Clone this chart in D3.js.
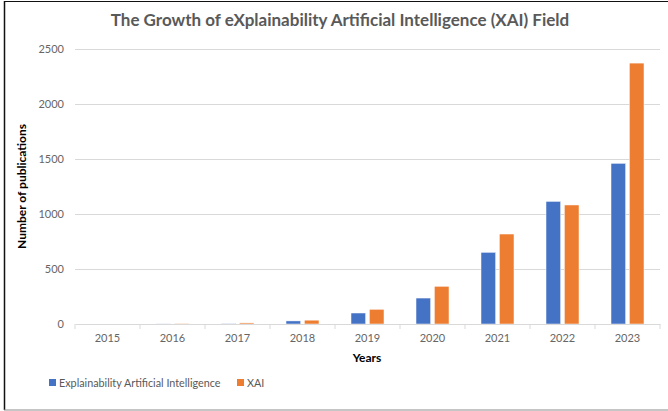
<!DOCTYPE html>
<html>
<head>
<meta charset="utf-8">
<script src="https://cdn.jsdelivr.net/npm/d3@7"></script>
<style>
  body { margin: 0; background: #fff; }
  svg { display: block; font-family: Lato, "Open Sans", sans-serif; }
</style>
</head>
<body>
<script>
// chart data
var years = ["2015", "2016", "2017", "2018", "2019", "2020", "2021", "2022", "2023"];
var seriesNames = ["Explainability Artificial Intelligence", "XAI"];
var xaiExplainability = [0, 1, 5, 28, 100, 236, 652, 1115, 1461];
var xaiShort = [0, 6, 10, 35, 134, 343, 818, 1082, 2372];
var yTicks = [0, 500, 1000, 1500, 2000, 2500];
var colors = ["#4472C4", "#ED7D31"];

var width = 668;
var height = 411;
var margin = { top: 49, bottom: 87, left: 75, right: 8 };

var svg = d3.select("body")
    .append("svg")
    .attr("width", width)
    .attr("height", height);

// frame lines of the original screenshot
svg.append("line").attr("x1", 4).attr("x2", width).attr("y1", 1.5).attr("y2", 1.5)
    .attr("stroke", "#111").attr("stroke-width", 1.2);
svg.append("line").attr("x1", 4.5).attr("x2", 4.5).attr("y1", 1).attr("y2", 410)
    .attr("stroke", "#111").attr("stroke-width", 1.5);
svg.append("line").attr("x1", 4).attr("x2", width).attr("y1", 410).attr("y2", 410)
    .attr("stroke", "#8c8c8c").attr("stroke-width", 1.2);

var xScale = d3.scaleBand()
    .domain(years)
    .range([margin.left, width - margin.right]);

var xSub = d3.scaleBand()
    .domain(seriesNames)
    .range([0, 33])
    .paddingInner(0.2);

var yScale = d3.scaleLinear()
    .domain([0, 2500])
    .range([height - margin.bottom, margin.top]);

// gridlines
svg.append("g")
    .attr("class", "grid")
    .attr("transform", "translate(" + margin.left + ",0)")
    .call(d3.axisLeft(yScale)
        .tickValues(yTicks.slice(1))
        .tickSize(-(width - margin.right - margin.left))
        .tickFormat("")
    )
    .call(function (g) {
        g.select(".domain").remove();
        g.selectAll("line").attr("stroke", "#d9d9d9").attr("stroke-width", 1);
    });

// y labels
svg.append("g")
    .attr("id", "y-axis")
    .attr("transform", "translate(" + margin.left + ",0)")
    .call(d3.axisLeft(yScale).tickValues(yTicks).tickFormat(d3.format("d")).tickSize(0).tickPadding(11))
    .call(function (g) {
        g.select(".domain").remove();
        g.selectAll("text")
            .attr("fill", "#666")
            .style("font-size", "11px")
            .style("font-family", "Lato, sans-serif");
    });

// bars
var rows = years.map(function (y, i) {
    return { year: y, values: [xaiExplainability[i], xaiShort[i]] };
});

var groups = svg.selectAll(".year")
    .data(rows)
    .enter()
    .append("g")
    .attr("class", "year")
    .attr("transform", function (d) {
        return "translate(" + (xScale(d.year) + (xScale.bandwidth() - 33) / 2) + ",0)";
    });

groups.selectAll("rect")
    .data(function (d) {
        return d.values.map(function (v, j) { return { name: seriesNames[j], value: v, j: j }; });
    })
    .enter()
    .append("rect")
    .attr("x", function (d) { return xSub(d.name); })
    .attr("width", xSub.bandwidth())
    .attr("y", function (d) { return yScale(d.value); })
    .attr("height", function (d) { return yScale(0) - yScale(d.value); })
    .attr("fill", function (d) { return colors[d.j]; })
    .attr("stroke", "#fff")
    .attr("stroke-width", 0.5);

// x axis
svg.append("g")
    .attr("id", "x-axis")
    .attr("transform", "translate(0," + yScale(0) + ")")
    .call(d3.axisBottom(xScale).tickSize(0).tickPadding(10))
    .call(function (g) {
        g.select(".domain").attr("stroke", "#d9d9d9");
        g.selectAll("text")
            .attr("fill", "#666")
            .style("font-size", "11px")
            .style("font-family", "Lato, sans-serif");
    });

// category separators
svg.append("g")
    .selectAll("line")
    .data(years.concat(["end"]))
    .enter()
    .append("line")
    .attr("x1", function (d, i) { return margin.left + i * xScale.step(); })
    .attr("x2", function (d, i) { return margin.left + i * xScale.step(); })
    .attr("y1", yScale(0))
    .attr("y2", yScale(0) + 5)
    .attr("stroke", "#d9d9d9");

// title
svg.append("text")
    .attr("x", 340)
    .attr("y", 26)
    .attr("text-anchor", "middle")
    .attr("fill", "#595959")
    .style("font-size", "17px")
    .style("font-weight", "bold")
    .text("The Growth of eXplainability Artificial Intelligence (XAI) Field");

// axis titles
svg.append("text")
    .attr("x", 367)
    .attr("y", 362)
    .attr("text-anchor", "middle")
    .attr("fill", "#000")
    .style("font-size", "12px")
    .style("font-weight", "bold")
    .text("Years");

svg.append("text")
    .attr("transform", "translate(26," + (yScale(1250)) + ") rotate(-90)")
    .attr("text-anchor", "middle")
    .attr("fill", "#000")
    .style("font-size", "12px")
    .style("font-weight", "bold")
    .text("Number of publications");

// legend
var legend = svg.append("g").attr("transform", "translate(49,379)");
var legendX = [0, 188];
seriesNames.forEach(function (name, i) {
    var item = legend.append("g").attr("transform", "translate(" + legendX[i] + ",0)");
    item.append("rect").attr("width", 7).attr("height", 7).attr("fill", colors[i]);
    item.append("text")
        .attr("x", 10)
        .attr("y", 7.5)
        .attr("fill", "#595959")
        .style("font-size", "10.8px")
        .text(name);
});
</script>
</body>
</html>
